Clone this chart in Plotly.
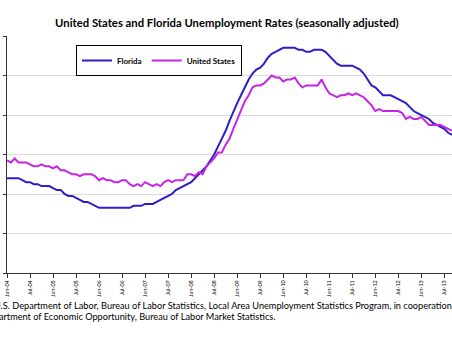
import plotly.graph_objects as go

# Month index 0 = Jan-2004
tick_labels = []
for yr in range(4, 14):
    tick_labels += ["Jan-%02d" % yr, "Jul-%02d" % yr]
tick_vals = [i * 6 for i in range(len(tick_labels))]

florida = [
    4.8, 4.8, 4.8, 4.8, 4.7, 4.6, 4.6, 4.5, 4.5, 4.4, 4.4, 4.4,   # 2004
    4.3, 4.2, 4.2, 4.0, 3.9, 3.9, 3.8, 3.7, 3.6, 3.6, 3.5, 3.4,   # 2005
    3.3, 3.3, 3.3, 3.3, 3.3, 3.3, 3.3, 3.3, 3.3, 3.4, 3.4, 3.4,   # 2006
    3.5, 3.5, 3.5, 3.6, 3.7, 3.8, 3.9, 4.0, 4.2, 4.3, 4.4, 4.5,   # 2007
    4.6, 4.8, 5.0, 5.2, 5.4, 5.7, 6.0, 6.4, 6.8, 7.2, 7.7, 8.2,   # 2008
    8.6, 9.0, 9.4, 9.8, 10.1, 10.3, 10.4, 10.6, 10.9, 11.1, 11.2, 11.3,  # 2009
    11.4, 11.4, 11.4, 11.4, 11.3, 11.3, 11.2, 11.2, 11.3, 11.3, 11.3, 11.2,  # 2010
    11.0, 10.8, 10.6, 10.5, 10.5, 10.5, 10.5, 10.4, 10.3, 10.1, 9.8, 9.5,  # 2011
    9.4, 9.2, 9.0, 9.0, 9.0, 8.9, 8.8, 8.7, 8.6, 8.4, 8.2, 8.1,   # 2012
    8.0, 7.9, 7.8, 7.6, 7.5, 7.4, 7.3, 7.1, 7.0,                  # 2013
]
united_states = [
    5.7, 5.6, 5.8, 5.6, 5.6, 5.6, 5.5, 5.4, 5.4, 5.5, 5.4, 5.4,   # 2004
    5.3, 5.4, 5.2, 5.2, 5.1, 5.0, 5.0, 4.9, 5.0, 5.0, 5.0, 4.9,   # 2005
    4.7, 4.8, 4.7, 4.7, 4.6, 4.6, 4.7, 4.7, 4.5, 4.4, 4.5, 4.4,   # 2006
    4.6, 4.5, 4.4, 4.5, 4.4, 4.6, 4.7, 4.6, 4.7, 4.7, 4.7, 5.0,   # 2007
    5.0, 4.9, 5.1, 5.0, 5.4, 5.6, 5.8, 6.1, 6.1, 6.5, 6.8, 7.3,   # 2008
    7.8, 8.3, 8.7, 9.0, 9.4, 9.5, 9.5, 9.6, 9.8, 10.0, 9.9, 9.9,  # 2009
    9.7, 9.8, 9.8, 9.9, 9.6, 9.4, 9.5, 9.5, 9.5, 9.5, 9.8, 9.4,   # 2010
    9.1, 9.0, 8.9, 9.0, 9.0, 9.1, 9.0, 9.1, 9.0, 8.9, 8.7, 8.5,   # 2011
    8.2, 8.3, 8.2, 8.2, 8.2, 8.2, 8.2, 8.1, 7.8, 7.9, 7.8, 7.8,   # 2012
    7.9, 7.7, 7.5, 7.5, 7.5, 7.5, 7.4, 7.3, 7.2,                  # 2013
]
months = list(range(len(florida)))

title_text = "United States and Florida Unemployment Rates (seasonally adjusted)"
source_line1 = ("U.S. Department of Labor, Bureau of Labor Statistics, Local Area Unemployment "
                "Statistics Program, in cooperation with the Florida")
source_line2 = "Department of Economic Opportunity, Bureau of Labor Market Statistics."

FONT = "Lato"
fig = go.Figure()
fig.add_trace(go.Scatter(x=months, y=florida, name="Florida", mode="lines",
                         line=dict(color="#2A1FC8", width=2)))
fig.add_trace(go.Scatter(x=months, y=united_states, name="United States", mode="lines",
                         line=dict(color="#C824E4", width=2)))

W, H = 452, 360
L, R, T, B = 7, 0, 36, 87
pw, ph = W - L - R, H - T - B

def px2paper_x(px):
    return (px - L) / pw

def px2paper_y(py):
    return (H - B - py) / ph

fig.update_layout(
    width=W, height=H,
    margin=dict(l=L, r=R, t=T, b=B, pad=0),
    paper_bgcolor="white", plot_bgcolor="white",
    font=dict(family=FONT, color="black"),
    title=dict(text=title_text, x=0.502, xref="container", xanchor="center",
               y=1 - 23 / H, yref="container", yanchor="middle",
               font=dict(family=FONT, size=11.3, color="black", weight="bold")),
    showlegend=True,
    legend=dict(orientation="h", x=px2paper_x(76), y=px2paper_y(45),
                xanchor="left", yanchor="top",
                bgcolor="white", bordercolor="black", borderwidth=1,
                font=dict(family=FONT, size=8, color="black", weight="bold"),
                itemwidth=30, tracegroupgap=0),
    xaxis=dict(range=[0, 116.0], tickmode="array", tickvals=tick_vals, ticktext=tick_labels,
               tickangle=-90, tickfont=dict(size=5.5, family=FONT, color="black"),
               showgrid=False, zeroline=False, showline=True, linecolor="#333333", linewidth=1,
               ticks="outside", ticklen=4, tickcolor="#333333", automargin=False),
    yaxis=dict(range=[0, 12], dtick=2, showticklabels=False,
               showgrid=True, gridcolor="#DCDCDC", gridwidth=1, zeroline=False,
               showline=True, linecolor="#333333", linewidth=1,
               ticks="outside", ticklen=3, tickcolor="#333333", automargin=False),
)

fig.add_annotation(text=source_line1, xref="paper", yref="paper",
                   x=px2paper_x(-8), y=px2paper_y(305), xanchor="left", yanchor="middle",
                   showarrow=False, font=dict(family=FONT, size=9.2, color="black"))
fig.add_annotation(text=source_line2, xref="paper", yref="paper",
                   x=px2paper_x(277), y=px2paper_y(316), xanchor="right", yanchor="middle",
                   showarrow=False, font=dict(family=FONT, size=9.2, color="black"))

fig.write_html("out.html", config={"displayModeBar": False},
               post_script="document.body.style.margin='0';document.body.style.padding='0';")
